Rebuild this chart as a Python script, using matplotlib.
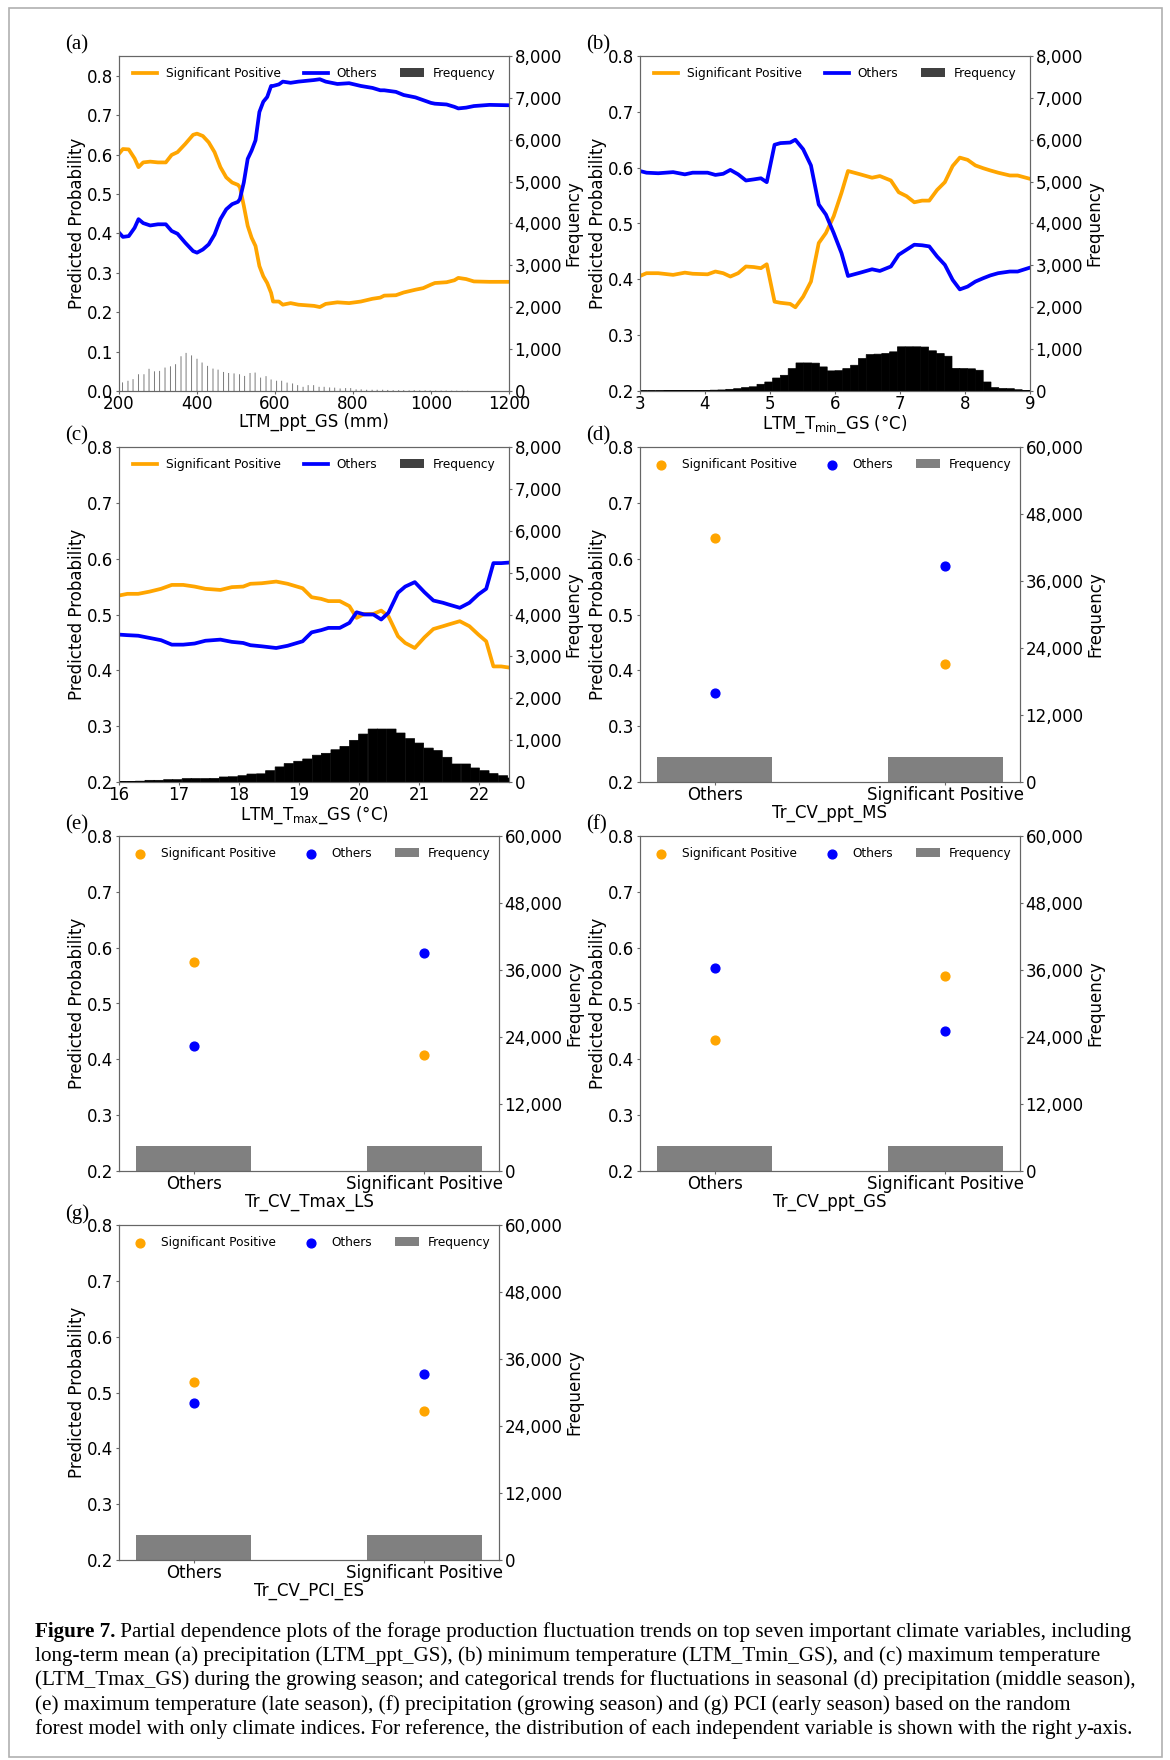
import numpy as np
import matplotlib
matplotlib.use('Agg')
import matplotlib.pyplot as plt
from matplotlib.patches import Patch, Rectangle
from matplotlib.ticker import FuncFormatter, MultipleLocator

W, H = 1170, 1760
ORANGE, BLUE = 'orange', 'blue'

# ── (a) LTM_ppt_GS ────────────────────────────────────────────────────────────
ppt_x = [200, 210, 225, 240, 250, 262, 280, 300, 320, 335,
         350, 370, 390, 400, 415, 430, 445, 460, 475, 490,
         505, 510, 520, 530, 540, 550, 560, 570, 580, 590,
         595, 610, 620, 640, 660, 700, 715, 730, 760, 790,
         820, 850, 870, 880, 910, 930, 960, 980, 1000, 1010,
         1040, 1060, 1070, 1090, 1110, 1150, 1200]
ppt_sig = [0.602, 0.614, 0.613, 0.590, 0.568, 0.580, 0.582, 0.580, 0.580, 0.599,
           0.606, 0.627, 0.650, 0.653, 0.647, 0.631, 0.606, 0.568, 0.542, 0.529,
           0.523, 0.517, 0.470, 0.419, 0.389, 0.368, 0.317, 0.291, 0.274, 0.249,
           0.227, 0.227, 0.219, 0.223, 0.219, 0.216, 0.213, 0.221, 0.225, 0.223,
           0.227, 0.234, 0.237, 0.242, 0.243, 0.250, 0.257, 0.261, 0.270, 0.274,
           0.276, 0.281, 0.287, 0.284, 0.278, 0.277, 0.277]
ppt_oth = [0.402, 0.391, 0.393, 0.414, 0.436, 0.426, 0.420, 0.423, 0.423, 0.406,
           0.399, 0.376, 0.355, 0.351, 0.359, 0.372, 0.397, 0.436, 0.461, 0.474,
           0.480, 0.487, 0.529, 0.589, 0.610, 0.636, 0.708, 0.734, 0.746, 0.774,
           0.774, 0.778, 0.785, 0.782, 0.785, 0.789, 0.791, 0.785, 0.779, 0.781,
           0.774, 0.769, 0.763, 0.763, 0.759, 0.751, 0.745, 0.738, 0.731, 0.729,
           0.727, 0.721, 0.717, 0.719, 0.723, 0.726, 0.725]
ppt_bins = [209, 223, 236, 250, 264, 277, 291, 304, 318, 332,
            345, 359, 372, 386, 400, 413, 427, 441, 454, 468,
            481, 495, 509, 522, 536, 549, 563, 577, 590, 604,
            617, 631, 645, 658, 672, 685, 699, 713, 726, 740,
            753, 767, 781, 794, 808, 821, 835, 849, 862, 876,
            889, 903, 917, 930, 944, 957, 971, 985, 998, 1012,
            1026, 1039, 1053, 1066, 1080, 1094]
ppt_freq = [205, 244, 283, 400, 400, 530, 470, 480, 560, 590,
            640, 830, 910, 850, 770, 680, 600, 535, 510, 455,
            430, 420, 400, 360, 430, 440, 320, 355, 275, 245,
            245, 200, 180, 140, 100, 140, 140, 100, 100, 85,
            80, 60, 70, 70, 40, 40, 30, 30, 30, 30,
            25, 20, 20, 20, 15, 20, 15, 15, 12, 10,
            10, 10, 8, 8, 6, 6]

# ── (b) LTM_Tmin_GS ───────────────────────────────────────────────────────────
tmin_x = [3.0, 3.1, 3.28, 3.51, 3.69, 3.81, 4.04, 4.16, 4.28, 4.39,
          4.51, 4.63, 4.75, 4.86, 4.95, 5.07, 5.16, 5.31, 5.39, 5.51,
          5.63, 5.75, 5.86, 5.98, 6.10, 6.20, 6.39, 6.57, 6.69, 6.86,
          6.98, 7.10, 7.22, 7.34, 7.45, 7.57, 7.69, 7.81, 7.92, 8.04,
          8.16, 8.28, 8.39, 8.51, 8.69, 8.81, 9.0]
tmin_sig = [0.406, 0.411, 0.411, 0.408, 0.412, 0.410, 0.409, 0.414, 0.411, 0.405,
            0.411, 0.423, 0.422, 0.420, 0.427, 0.360, 0.358, 0.356, 0.350, 0.369,
            0.396, 0.465, 0.483, 0.513, 0.555, 0.594, 0.588, 0.582, 0.585, 0.577,
            0.556, 0.549, 0.538, 0.541, 0.541, 0.560, 0.574, 0.603, 0.618, 0.614,
            0.604, 0.599, 0.595, 0.591, 0.586, 0.586, 0.580]
tmin_oth = [0.594, 0.591, 0.590, 0.592, 0.588, 0.591, 0.591, 0.587, 0.589, 0.596,
            0.588, 0.577, 0.579, 0.581, 0.574, 0.641, 0.644, 0.645, 0.650, 0.633,
            0.604, 0.534, 0.516, 0.483, 0.447, 0.406, 0.412, 0.418, 0.415, 0.423,
            0.444, 0.453, 0.462, 0.461, 0.459, 0.441, 0.426, 0.399, 0.382, 0.387,
            0.396, 0.402, 0.407, 0.411, 0.414, 0.414, 0.421]
tmin_bins = [3.06, 3.18, 3.30, 3.42, 3.54, 3.66, 3.78, 3.90, 4.02, 4.14,
             4.26, 4.38, 4.50, 4.62, 4.74, 4.86, 4.98, 5.10, 5.22, 5.34,
             5.46, 5.58, 5.70, 5.82, 5.94, 6.06, 6.18, 6.30, 6.42, 6.54,
             6.66, 6.78, 6.90, 7.02, 7.14, 7.26, 7.38, 7.50, 7.62, 7.74,
             7.86, 7.98, 8.10, 8.22, 8.34, 8.46, 8.58, 8.70, 8.82, 8.94]
tmin_freq = [5, 5, 5, 10, 10, 10, 10, 15, 15, 20,
             25, 40, 55, 80, 100, 160, 215, 310, 375, 535,
             670, 670, 665, 575, 480, 485, 535, 615, 775, 870,
             880, 895, 935, 1055, 1055, 1055, 1050, 960, 895, 830,
             540, 535, 530, 495, 215, 80, 60, 55, 30, 15]

# ── (c) LTM_Tmax_GS ───────────────────────────────────────────────────────────
tmax_x = [16.0, 16.14, 16.32, 16.51, 16.70, 16.88, 17.07, 17.26, 17.44, 17.69,
          17.88, 18.07, 18.19, 18.38, 18.62, 18.81, 19.06, 19.21, 19.37, 19.49,
          19.68, 19.84, 19.96, 20.09, 20.24, 20.37, 20.49, 20.65, 20.77, 20.93,
          21.09, 21.24, 21.40, 21.49, 21.68, 21.84, 21.99, 22.12, 22.24, 22.37,
          22.5]
tmax_sig = [0.534, 0.537, 0.537, 0.541, 0.546, 0.553, 0.553, 0.550, 0.546, 0.544,
            0.549, 0.550, 0.555, 0.556, 0.559, 0.555, 0.547, 0.531, 0.528, 0.524,
            0.524, 0.515, 0.494, 0.501, 0.501, 0.507, 0.497, 0.461, 0.449, 0.440,
            0.459, 0.474, 0.479, 0.482, 0.488, 0.479, 0.464, 0.452, 0.407, 0.407,
            0.405]
tmax_oth = [0.464, 0.463, 0.462, 0.458, 0.454, 0.446, 0.446, 0.448, 0.453, 0.455,
            0.451, 0.449, 0.445, 0.443, 0.440, 0.444, 0.452, 0.468, 0.472, 0.476,
            0.476, 0.485, 0.504, 0.500, 0.500, 0.491, 0.503, 0.539, 0.550, 0.558,
            0.540, 0.525, 0.521, 0.518, 0.512, 0.521, 0.536, 0.546, 0.592, 0.592,
            0.593]
tmax_bins = [16.04, 16.2, 16.35, 16.51, 16.66, 16.82, 16.97, 17.13, 17.28, 17.44,
             17.59, 17.75, 17.9, 18.06, 18.21, 18.37, 18.52, 18.68, 18.83, 18.99,
             19.14, 19.3, 19.45, 19.61, 19.76, 19.92, 20.07, 20.23, 20.38, 20.54,
             20.69, 20.85, 21.0, 21.16, 21.31, 21.47, 21.62, 21.78, 21.93, 22.09,
             22.24, 22.4, 22.55]
tmax_freq = [15, 15, 20, 40, 40, 55, 55, 80, 80, 80,
             85, 120, 125, 150, 190, 195, 270, 360, 440, 495,
             550, 640, 685, 770, 850, 995, 1145, 1265, 1265, 1265,
             1170, 1035, 930, 810, 750, 590, 430, 430, 335, 270,
             200, 150, 95]

# ── (d)-(g) categorical ───────────────────────────────────────────────────────
cats = ['Others', 'Significant Positive']
ms_sig, ms_oth, ms_freq = [0.637, 0.411], [0.359, 0.586], [4420, 4420]
ls_sig, ls_oth, ls_freq = [0.575, 0.408], [0.423, 0.590], [4420, 4420]
gs_sig, gs_oth, gs_freq = [0.434, 0.549], [0.564, 0.450], [4420, 4420]
es_sig, es_oth, es_freq = [0.519, 0.467], [0.481, 0.533], [4480, 4480]


comma = FuncFormatter(lambda v, p: f'{int(v):,}')
SPINE = '#666666'
LEG_LABELS = ['Significant Positive', 'Others', 'Frequency']

fig = plt.figure(figsize=(W / 100, H / 100), dpi=100)
plt.rcParams.update({'font.family': 'DejaVu Sans', 'font.size': 12})


def make_axes(left, top, w=390, h=335):
    ax = fig.add_axes([left / W, 1 - (top + h) / H, w / W, h / H])
    ax2 = ax.twinx()
    for a in (ax, ax2):
        for s in a.spines.values():
            s.set_color(SPINE)
        a.tick_params(labelsize=12, color=SPINE, length=2, pad=2)
    ax.tick_params(axis='x', pad=1)
    ax.set_ylabel('Predicted Probability', fontsize=12, labelpad=1)
    ax2.set_ylabel('Frequency', fontsize=12, labelpad=2)
    ax.yaxis.set_major_locator(MultipleLocator(0.1))
    return ax, ax2


def line_panel(left, top, x, sig, oth, bins, freq, bw, xlim, ylim, xlabel,
               xticks, thin=False):
    ax, ax2 = make_axes(left, top)
    l1, = ax.plot(x, sig, color=ORANGE, lw=2.7)
    l2, = ax.plot(x, oth, color=BLUE, lw=2.7)
    if thin:
        ax2.bar(bins, freq, width=bw, color='black', alpha=0.5, lw=0, snap=False)
    else:
        ax2.bar(bins, freq, width=bw, color='black', edgecolor='black',
                lw=0.5, snap=False)
    ax.set_xlim(*xlim)
    ax.set_ylim(*ylim)
    ax.set_xticks(xticks)
    ax2.set_ylim(0, 8000)
    ax2.yaxis.set_major_locator(MultipleLocator(1000))
    ax2.yaxis.set_major_formatter(comma)
    ax.set_xlabel(xlabel, fontsize=12, labelpad=0)
    ax2.legend(handles=[l1, l2, Patch(facecolor='#404040')], labels=LEG_LABELS,
               loc='upper center', ncol=3, frameon=False, fontsize=8.7,
               columnspacing=1.9, handletextpad=0.7)
    return ax


def cat_panel(left, top, sig, oth, freq, xlabel):
    ax, ax2 = make_axes(left, top, w=380)
    pos = [0, 1]
    ax2.bar(pos, freq, width=0.5, color='gray')
    s1 = ax.scatter(pos, sig, color=ORANGE, s=40, zorder=3)
    s2 = ax.scatter(pos, oth, color=BLUE, s=40, zorder=3)
    ax.set_zorder(ax2.get_zorder() + 1)
    ax.patch.set_visible(False)
    ax.set_xlim(-0.325, 1.325)
    ax.set_ylim(0.2, 0.8)
    ax.set_xticks(pos)
    ax.set_xticklabels(cats)
    ax2.set_ylim(0, 60000)
    ax2.yaxis.set_major_locator(MultipleLocator(12000))
    ax2.yaxis.set_major_formatter(comma)
    ax.set_xlabel(xlabel, fontsize=12, labelpad=0)
    ax.legend(handles=[s1, s2, Patch(facecolor='gray')], labels=LEG_LABELS,
              loc='upper center', ncol=3, frameon=False, fontsize=8.7,
              columnspacing=1.9, handletextpad=0.7, scatterpoints=1)
    return ax


L1, L2 = 119, 640
T = [56, 447, 836, 1225]

line_panel(L1, T[0], ppt_x, ppt_sig, ppt_oth, ppt_bins, ppt_freq, 2.6,
           (200, 1200), (0, 0.85), 'LTM_ppt_GS (mm)',
           [200, 400, 600, 800, 1000, 1200], thin=True)
line_panel(L2, T[0], tmin_x, tmin_sig, tmin_oth, tmin_bins, tmin_freq, 0.12,
           (3, 9), (0.2, 0.8), r'LTM_T$_{\mathrm{min}}$_GS (°C)',
           [3, 4, 5, 6, 7, 8, 9])
line_panel(L1, T[1], tmax_x, tmax_sig, tmax_oth, tmax_bins, tmax_freq, 0.155,
           (16, 22.5), (0.2, 0.8), r'LTM_T$_{\mathrm{max}}$_GS (°C)',
           [16, 17, 18, 19, 20, 21, 22])
cat_panel(L2, T[1], ms_sig, ms_oth, ms_freq, 'Tr_CV_ppt_MS')
cat_panel(L1, T[2], ls_sig, ls_oth, ls_freq, 'Tr_CV_Tmax_LS')
cat_panel(L2, T[2], gs_sig, gs_oth, gs_freq, 'Tr_CV_ppt_GS')
cat_panel(L1, T[3], es_sig, es_oth, es_freq, 'Tr_CV_PCI_ES')

# panel letters
for lab, (lx, ty) in zip('abcdefg', [(L1, T[0]), (L2, T[0]), (L1, T[1]), (L2, T[1]),
                                     (L1, T[2]), (L2, T[2]), (L1, T[3])]):
    fig.text((lx - 54) / W, 1 - (ty - 11) / H, f'({lab})',
             family='Liberation Serif', fontsize=15, va='center')

# outer frame
fig.add_artist(Rectangle((9 / W, 1 - 1757 / H), 1153 / W, 1749 / H,
                         transform=fig.transFigure, fill=False,
                         edgecolor='#b0b0b0', lw=1.2))

# caption
CAP_FS = 15.2
caption = [
    [('Figure 7.', {'weight': 'bold'}),
     (' Partial dependence plots of the forage production fluctuation trends on top seven important climate variables, including', {})],
    [('long-term mean (a) precipitation (LTM_ppt_GS), (b) minimum temperature (LTM_Tmin_GS), and (c) maximum temperature', {})],
    [('(LTM_Tmax_GS) during the growing season; and categorical trends for fluctuations in seasonal (d) precipitation (middle season),', {})],
    [('(e) maximum temperature (late season), (f) precipitation (growing season) and (g) PCI (early season) based on the random', {})],
    [('forest model with only climate indices. For reference, the distribution of each independent variable is shown with the right ', {}),
     ('y', {'style': 'italic'}), ('-axis.', {})],
]
renderer = fig.canvas.get_renderer()
for i, parts in enumerate(caption):
    x = 35
    base = 1637 + i * 24.2
    for txt, kw in parts:
        t = fig.text(x / W, 1 - base / H, txt, fontsize=CAP_FS,
                     family='Liberation Serif', va='baseline', **kw)
        x = t.get_window_extent(renderer).x1

fig.savefig('out.png', dpi=100)
